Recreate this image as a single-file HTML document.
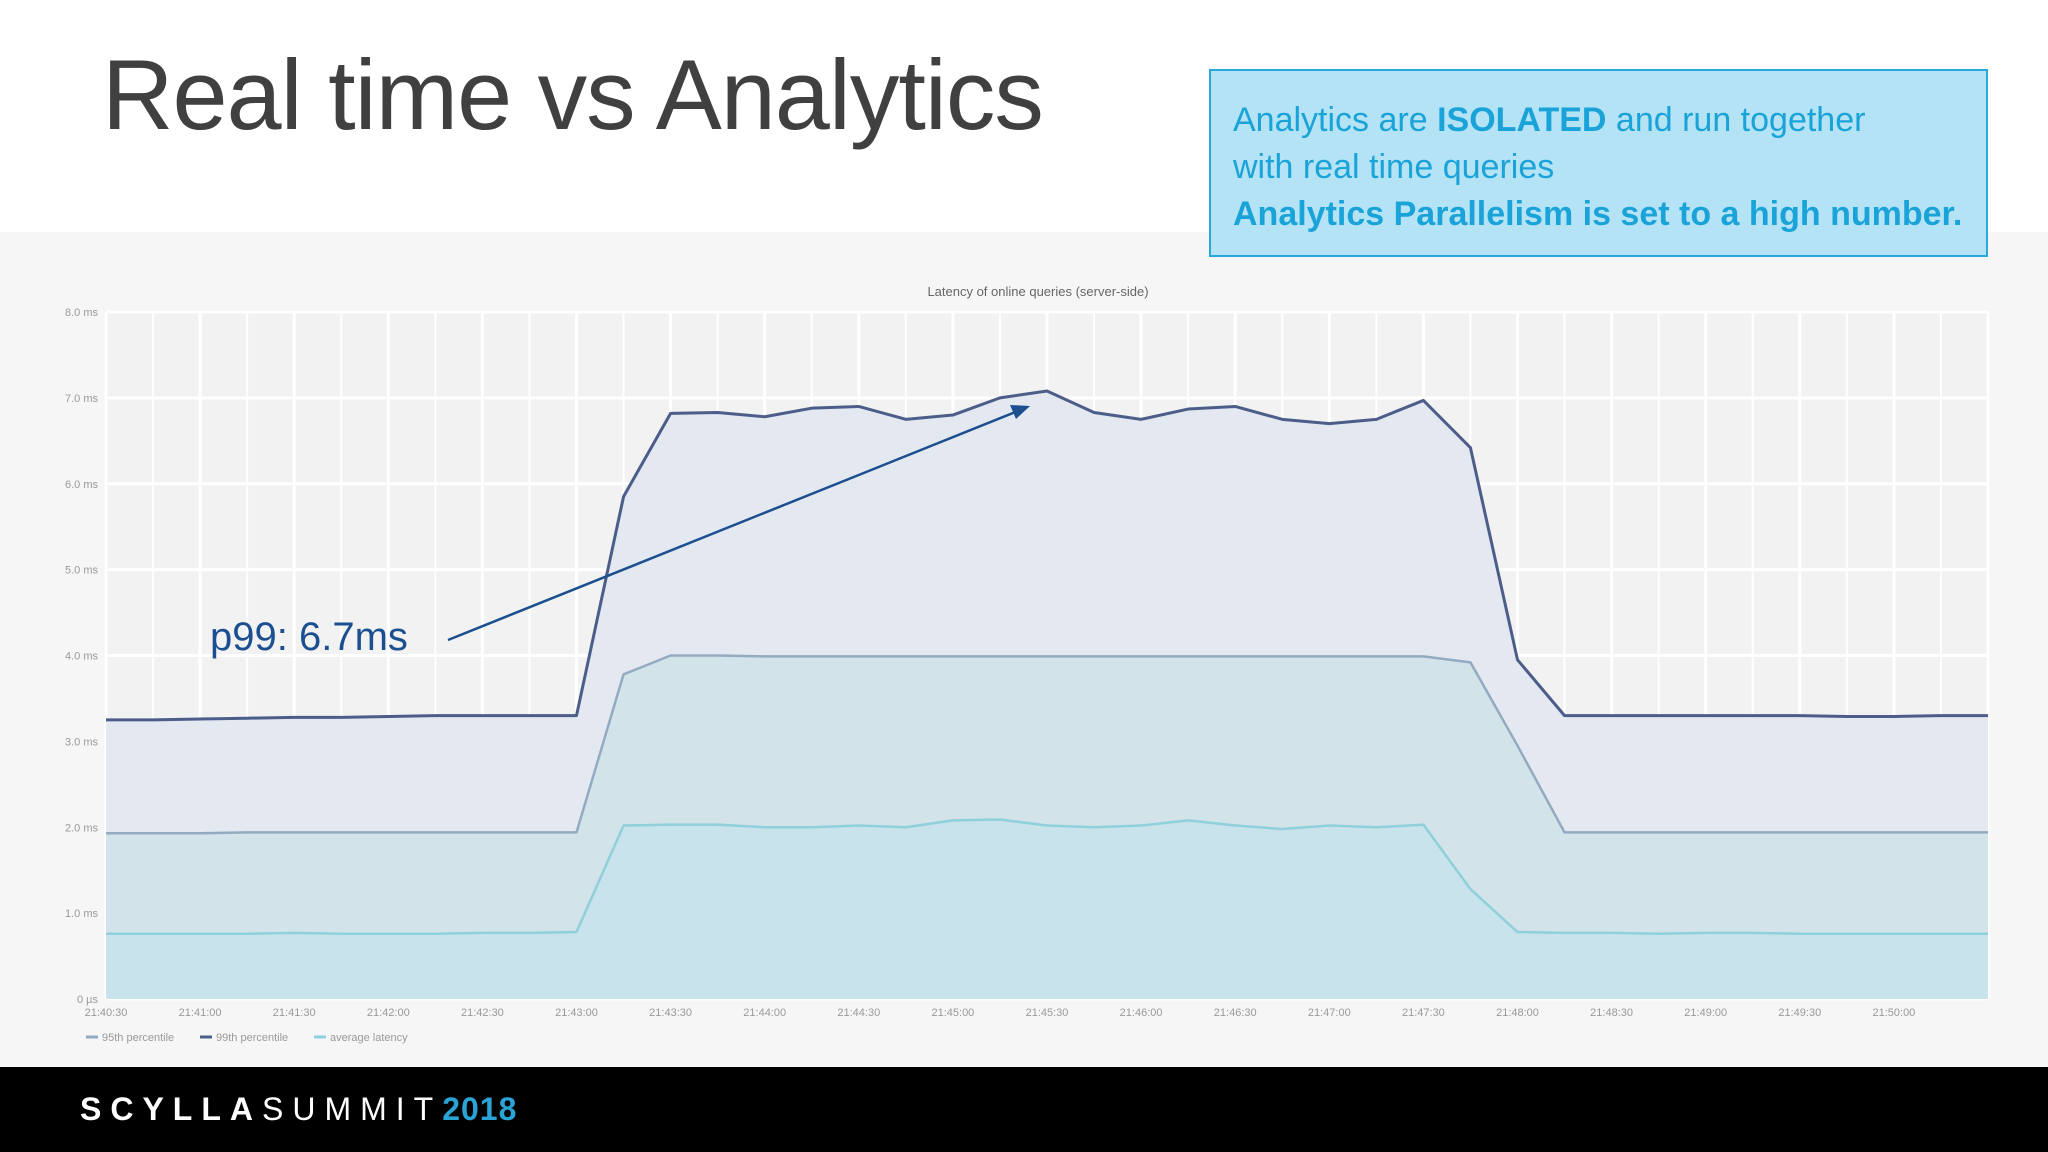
<!DOCTYPE html>
<html><head><meta charset="utf-8"><style>
html,body{margin:0;width:2048px;height:1152px;overflow:hidden}
body{background:#fff;font-family:"Liberation Sans",sans-serif;position:relative}
#title{position:absolute;left:102px;top:38px;font-size:99px;color:#404040;white-space:nowrap;letter-spacing:-1px}
#box{position:absolute;left:1209px;top:69px;width:779px;height:188px;border:2px solid #2aa8dc;background:#b3e3f4;box-sizing:border-box;padding:26px 0 0 22px;font-size:34px;line-height:47px;color:#1aa3d9;white-space:nowrap}
#footer{position:absolute;left:0;top:1067px;width:2048px;height:85px;background:#000;overflow:hidden}
#logo{position:absolute;left:80px;top:24px;font-size:32px;letter-spacing:9px;color:#fff;white-space:nowrap}
</style></head><body>
<div id="title">Real time vs Analytics</div>
<svg id="chart" width="2048" height="1067" style="position:absolute;left:0;top:0"></svg>
<div id="box">Analytics are <b>ISOLATED</b> and run together<br>with real time queries<br><b>Analytics Parallelism is set to a high number.</b></div>
<div id="footer"><div id="logo"><b>SCYLLA</b>SUMMIT<b style="color:#2aa3d5;letter-spacing:1px">2018</b></div></div>
<script>
const p99=[3.25,3.25,3.26,3.27,3.28,3.28,3.29,3.3,3.3,3.3,3.3,5.85,6.82,6.83,6.78,6.88,6.9,6.75,6.8,7.0,7.08,6.83,6.75,6.87,6.9,6.75,6.7,6.75,6.97,6.42,3.95,3.3,3.3,3.3,3.3,3.3,3.3,3.29,3.29,3.3,3.3];
const p95=[1.93,1.93,1.93,1.94,1.94,1.94,1.94,1.94,1.94,1.94,1.94,3.78,4.0,4.0,3.99,3.99,3.99,3.99,3.99,3.99,3.99,3.99,3.99,3.99,3.99,3.99,3.99,3.99,3.99,3.92,2.95,1.94,1.94,1.94,1.94,1.94,1.94,1.94,1.94,1.94,1.94];
const avg=[0.76,0.76,0.76,0.76,0.77,0.76,0.76,0.76,0.77,0.77,0.78,2.02,2.03,2.03,2.0,2.0,2.02,2.0,2.08,2.09,2.02,2.0,2.02,2.08,2.02,1.98,2.02,2.0,2.03,1.28,0.78,0.77,0.77,0.76,0.77,0.77,0.76,0.76,0.76,0.76,0.76];
const yTicks=[0,1,2,3,4,5,6,7,8];
const yLabels=["0 µs","1.0 ms","2.0 ms","3.0 ms","4.0 ms","5.0 ms","6.0 ms","7.0 ms","8.0 ms"];
const xLabels=["21:40:30","21:41:00","21:41:30","21:42:00","21:42:30","21:43:00","21:43:30","21:44:00","21:44:30","21:45:00","21:45:30","21:46:00","21:46:30","21:47:00","21:47:30","21:48:00","21:48:30","21:49:00","21:49:30","21:50:00"];
const NS="http://www.w3.org/2000/svg";
const svg=document.getElementById('chart');
const X0=106,X1=1988,Y0=999,Y1=312;
const x=i=>X0+(X1-X0)*i/(p99.length-1);
const y=v=>Y0-(Y0-Y1)*v/8;
function mk(t,a,p){const e=document.createElementNS(NS,t);for(const k in a)e.setAttribute(k,a[k]);(p||svg).appendChild(e);return e;}
let bg=mk('rect',{x:0,y:232,width:2048,height:835,fill:'#f6f6f6'});


let pb=mk('rect',{x:X0,y:Y1,width:X1-X0,height:Y0-Y1,fill:'#f2f2f2'});


for(let k=0;k<=40;k++){let g=mk('line',{x1:x(k),x2:x(k),y1:Y1,y2:Y0,stroke:'#fff','stroke-width':k%2?2:3});

}
yTicks.forEach((t,i)=>{let g=mk('line',{x1:X0,x2:X1,y1:y(t),y2:y(t),stroke:'#fff','stroke-width':3});


let tx=mk('text',{x:98,y:y(t)+4,'text-anchor':'end','font-size':11,fill:'#999'});tx.textContent=yLabels[i];

});
xLabels.forEach((l,i)=>{let tx=mk('text',{x:x(i*2),y:1016,'text-anchor':'middle','font-size':11,fill:'#999'});tx.textContent=l;

});
function series(arr,fill,stroke,w,name){
 let d=arr.map((v,i)=>(i?'L':'M')+x(i)+','+y(v)).join('');
 let a=mk('path',{d:d+'L'+X1+','+Y0+'L'+X0+','+Y0+'Z',fill:fill});
 
 
 let l=mk('path',{d:d,fill:'none',stroke:stroke,'stroke-width':w,'stroke-linejoin':'round'});
 
 
}
series(p99,'#e4e8f1','#4d5d89',3,'p99');
series(p95,'#d3e3ea','#93abc0',2.5,'p95');
series(avg,'#c8e3eb','#8fd0da',2.5,'average');
let ct=mk('text',{x:1038,y:296,'text-anchor':'middle','font-size':13,fill:'#666'});ct.textContent='Latency of online queries (server-side)';


const leg=[['95th percentile','#93abc0'],['99th percentile','#4d5d89'],['average latency','#8fd0da']];
let lx=86;
leg.forEach(([t,c])=>{let s=mk('line',{x1:lx,x2:lx+12,y1:1037,y2:1037,stroke:c,'stroke-width':3});


let tx=mk('text',{x:lx+16,y:1041,'font-size':11,fill:'#999'});tx.textContent=t;


lx+=114;});
let ar=mk('line',{x1:448,y1:640,x2:1018,y2:411,stroke:'#1b4f8f','stroke-width':2.5});


let ah=mk('polygon',{points:'1030,406 1010,405 1016,419',fill:'#1b4f8f'});


let an=mk('text',{x:210,y:650,'font-size':40,fill:'#1b4f8f'});an.textContent='p99: 6.7ms';


</script>
</body></html>
